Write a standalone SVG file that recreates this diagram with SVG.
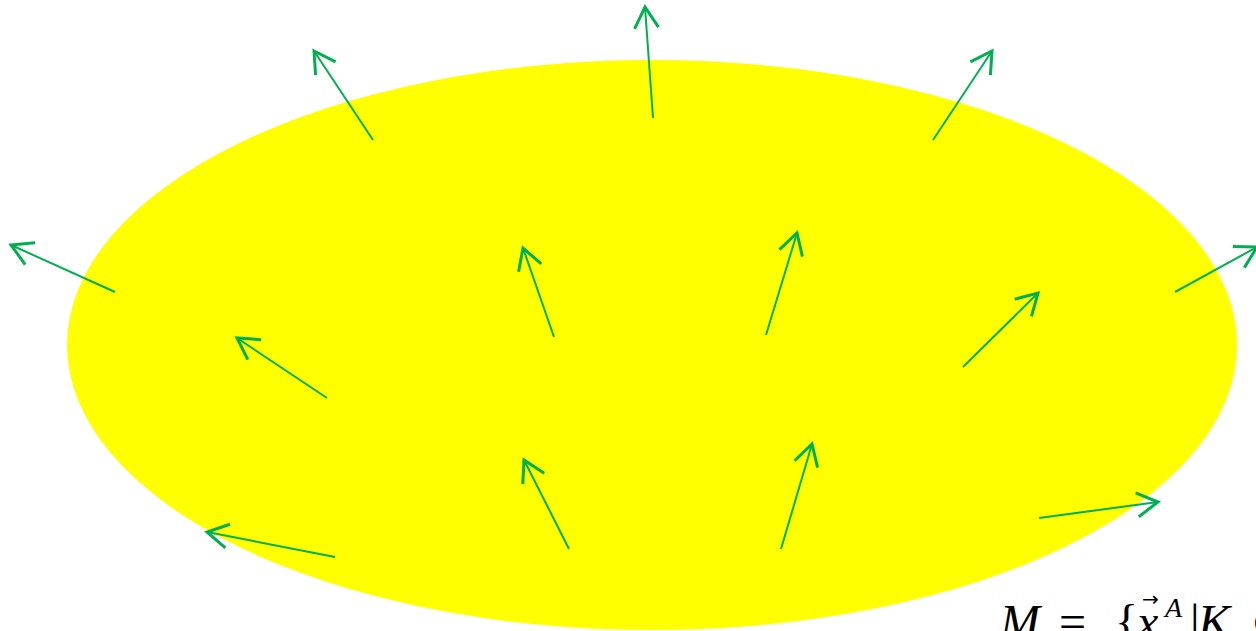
<svg xmlns="http://www.w3.org/2000/svg" width="1256" height="631" viewBox="0 0 1256 631">
<style>
.arr{stroke:#00b050;stroke-width:2;fill:none;marker-end:url(#ah)}
.m{font-family:"Liberation Serif","DejaVu Serif",serif;fill:#000}
.i{font-style:italic}
</style>
<defs>
<marker id="ah" markerUnits="userSpaceOnUse" markerWidth="30" markerHeight="30" refX="0" refY="0" viewBox="-16 -10 20 20" orient="auto" overflow="visible">
<path d="M-14,-8 L0,0 L-14,8" stroke="#00b050" stroke-width="2" fill="none"/>
</marker>
</defs>
<rect width="1256" height="631" fill="#fff"/>
<g id="region">
<ellipse cx="652" cy="345" rx="585" ry="285" fill="#ffff00"/>
</g>
<g id="connectors">
<line class="arr" x1="653" y1="118" x2="645" y2="7"/>
<line class="arr" x1="373" y1="140" x2="314" y2="51"/>
<line class="arr" x1="933" y1="140" x2="992" y2="51"/>
<line class="arr" x1="115" y1="292" x2="11" y2="245"/>
<line class="arr" x1="1175" y1="292" x2="1257" y2="247"/>
<line class="arr" x1="327" y1="398" x2="237" y2="338"/>
<line class="arr" x1="554" y1="337" x2="523" y2="248"/>
<line class="arr" x1="766" y1="335" x2="797" y2="233"/>
<line class="arr" x1="963" y1="367" x2="1038" y2="293"/>
<line class="arr" x1="335" y1="557" x2="207" y2="532"/>
<line class="arr" x1="569" y1="549" x2="524" y2="460"/>
<line class="arr" x1="781" y1="549" x2="812" y2="444"/>
<line class="arr" x1="1039" y1="518" x2="1158" y2="502"/>
</g>
<g id="label">
<text class="m i" x="1000" y="638" font-size="48">M</text>
<text class="m" x="1059" y="638" font-size="48">=</text>
<text class="m" x="1115" y="638" font-size="48">{</text>
<text class="m i" x="1137" y="638" font-size="48">x</text>
<text x="1142" y="606" font-size="20" font-family="DejaVu Sans,sans-serif">→</text>
<text class="m i" x="1165" y="617" font-size="28">A</text>
<text class="m" x="1190" y="638" font-size="48">|</text>
<text class="m i" x="1198" y="638" font-size="48">K</text>
<text class="m" x="1250" y="638" font-size="48">∈</text>
</g>
</svg>
